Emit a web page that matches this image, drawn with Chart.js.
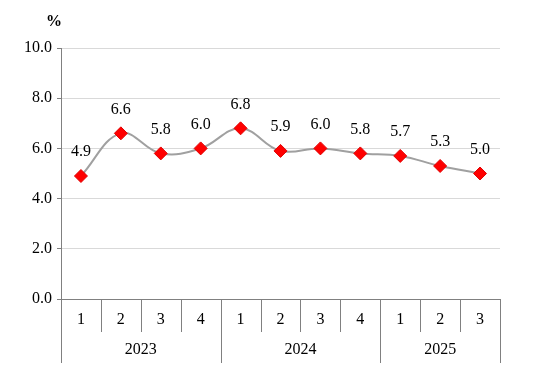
<!DOCTYPE html>
<html><head><meta charset="utf-8">
<script src="https://cdn.jsdelivr.net/npm/chart.js@4"></script>
<style>html,body{margin:0;padding:0;background:#fff}#wrap{width:554px;height:382px}</style>
</head><body><div id="wrap"><canvas id="c" width="554" height="382"></canvas></div>
<script>
const quarters = ['1','2','3','4','1','2','3','4','1','2','3'];
const years = ['2023','2023','2023','2023','2024','2024','2024','2024','2025','2025','2025'];
const values = [4.9, 6.6, 5.8, 6.0, 6.8, 5.9, 6.0, 5.8, 5.7, 5.3, 5.0];
const yTicks = [0, 2, 4, 6, 8, 10];
const unitLabel = '%';

const FONT = '"Liberation Serif", "Times New Roman", serif';

const tablePlugin = {
  id: 'table',
  afterDraw(chart) {
    const ctx = chart.ctx;
    const x = chart.scales.x;
    const area = chart.chartArea;
    const base = area.bottom;
    const n = quarters.length;
    const half = (x.getPixelForValue(1) - x.getPixelForValue(0)) / 2;
    ctx.save();
    ctx.strokeStyle = '#808080';
    ctx.lineWidth = 1;
    ctx.beginPath();
    ctx.moveTo(area.left, Math.round(base) + 0.5);
    ctx.lineTo(area.right, Math.round(base) + 0.5);
    ctx.stroke();
    for (let i = 0; i <= n; i++) {
      const bx = Math.round(i < n ? x.getPixelForValue(i) - half : x.getPixelForValue(n - 1) + half) + 0.5;
      const isYear = i === 0 || i === n || years[i] !== years[i - 1];
      ctx.beginPath();
      ctx.moveTo(bx, base);
      ctx.lineTo(bx, base + (isYear ? 64 : 33));
      ctx.stroke();
    }
    ctx.fillStyle = '#000';
    ctx.font = '16px ' + FONT;
    ctx.textAlign = 'center';
    ctx.textBaseline = 'middle';
    for (let i = 0; i < n; i++) {
      ctx.fillText(quarters[i], x.getPixelForValue(i), base + 21);
    }
    let start = 0;
    for (let i = 1; i <= n; i++) {
      if (i === n || years[i] !== years[start]) {
        const cx = (x.getPixelForValue(start) + x.getPixelForValue(i - 1)) / 2;
        ctx.fillText(years[start], cx, base + 51);
        start = i;
      }
    }
    const meta = chart.getDatasetMeta(0);
    meta.data.forEach((pt, i) => {
      ctx.fillText(values[i].toFixed(1), pt.x, pt.y - 24);
    });
    ctx.font = 'bold 16px ' + FONT;
    ctx.fillText(unitLabel, 54, 22);
    ctx.restore();
  }
};

new Chart(document.getElementById('c'), {
  type: 'line',
  data: {
    labels: quarters.map((q, i) => years[i] + 'Q' + q),
    datasets: [{
      data: values,
      borderColor: '#a0a0a0',
      borderWidth: 2,
      tension: 0.4,
      pointStyle: 'rectRot',
      pointRadius: 6.5,
      pointHoverRadius: 6.5,
      pointBackgroundColor: '#ff0000',
      pointBorderColor: '#e00000',
      pointBorderWidth: 1,
      fill: false
    }]
  },
  options: {
    responsive: false,
    animation: false,
    events: [],
    layout: { padding: { top: 48, right: 54, bottom: 83, left: 0 } },
    plugins: { legend: { display: false }, tooltip: { enabled: false } },
    scales: {
      x: { type: 'category', offset: true, display: false },
      y: {
        min: 0, max: 10,
        afterFit(s) { s.width = 61; },
        afterBuildTicks(s) { s.ticks = yTicks.map(v => ({ value: v })); },
        ticks: {
          callback: v => Number(v).toFixed(1),
          color: '#000',
          font: { family: FONT, size: 16 },
          padding: 5
        },
        grid: { color: '#d9d9d9', tickColor: '#808080', tickLength: 4 },
        border: { color: '#808080' }
      }
    }
  },
  plugins: [tablePlugin]
});
</script>
</body></html>
